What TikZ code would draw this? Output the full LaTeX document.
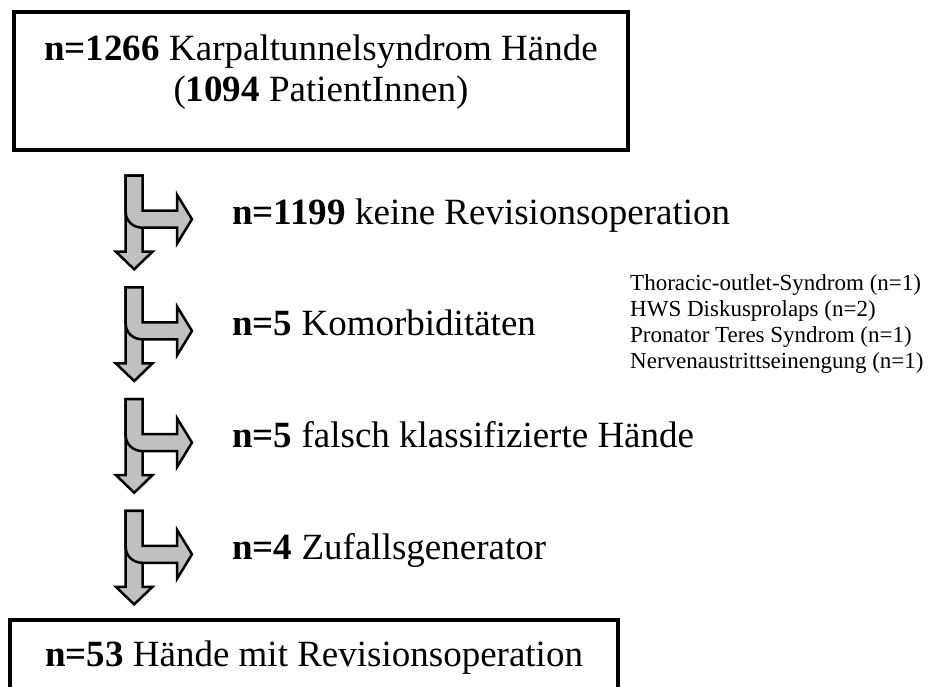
\documentclass[tikz,border=0pt]{standalone}
\usepackage{fontspec}
\setmainfont{Liberation Serif}
\definecolor{arrowgray}{RGB}{192,192,192}
\tikzset{
  boxframe/.style={draw=black, line width=4pt, inner sep=0pt},
  maintext/.style={font=\fontsize{37}{42}\selectfont, inner sep=0pt, anchor=base west},
  boxtext/.style={font=\fontsize{37}{42}\selectfont, inner sep=0pt, anchor=base},
  sidetext/.style={font=\fontsize{23}{26}\selectfont, inner sep=0pt, anchor=base west},
  arrowshape/.style={fill=arrowgray, draw=black, line width=2.5pt, line join=miter}
}
\newcommand{\splitarrow}[2]{%
  \begin{scope}[shift={(0,#1)}]
    \coordinate (#2) at (134.2,0);
    \path[arrowshape] (125.7,0) -- (142.7,0) -- (142.7,76) -- (152.5,76) -- (134.2,93.6) -- (115.9,76) -- (125.7,76) -- cycle;
    \path[arrowshape] (125.7,0) -- (125.7,36) .. controls (125.7,45.5) and (133.2,52) .. (142.7,52) -- (177,52) -- (177,68) -- (192,43.5) -- (177,19) -- (177,35) -- (142.7,35) -- (142.7,0) -- cycle;
  \end{scope}}
\begin{document}
\begin{tikzpicture}[x=1pt,y=-1pt]
\useasboundingbox (0,0) rectangle (928,687);
% top box
\node[boxframe, minimum width=614pt, minimum height=138pt] (topbox) at (321,81) {};
\node[boxtext] (top1) at (321,61) {\textbf{n=1266} Karpaltunnelsyndrom Hände};
\node[boxtext] (top2) at (321,102) {(\textbf{1094} PatientInnen)};
% arrows
\splitarrow{175.7}{a1}
\splitarrow{287.4}{a2}
\splitarrow{399.1}{a3}
\splitarrow{510.8}{a4}
% texts
\node[maintext] (t1) at (232,224) {\textbf{n=1199} keine Revisionsoperation};
\node[maintext] (t2) at (232,335.7) {\textbf{n=5} Komorbiditäten};
\node[maintext] (t3) at (232,447.4) {\textbf{n=5} falsch klassifizierte Hände};
\node[maintext] (t4) at (232,559.1) {\textbf{n=4} Zufallsgenerator};
% side list
\node[sidetext] (s1) at (630,290) {Thoracic-outlet-Syndrom (n=1)};
\node[sidetext] (s2) at (630,316) {HWS Diskusprolaps (n=2)};
\node[sidetext] (s3) at (630,342) {Pronator Teres Syndrom (n=1)};
\node[sidetext] (s4) at (630,368) {Nervenaustrittseinengung (n=1)};
% bottom box
\node[boxframe, minimum width=608pt, minimum height=72pt] (botbox) at (314,656) {};
\node[boxtext] (bot1) at (314,666) {\textbf{n=53} Hände mit Revisionsoperation};
\end{tikzpicture}
\end{document}
